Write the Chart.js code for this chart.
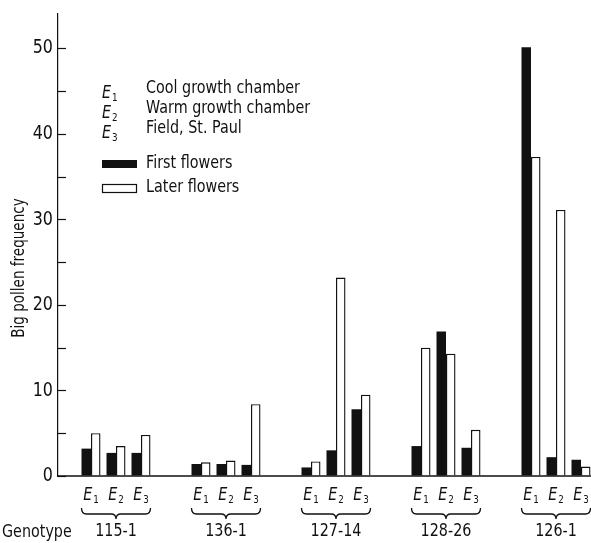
<!DOCTYPE html>
<html>
<head>
<meta charset="utf-8">
<script src="https://cdn.jsdelivr.net/npm/chart.js@4.4.1/dist/chart.umd.min.js"></script>
<style>
    html, body { margin: 0; padding: 0; background: #fff; }
    #wrap { width: 591px; height: 543px; position: relative; }
</style>
</head>
<body>
<div id="wrap"><canvas id="pollenChart"></canvas></div>
<script>
// data
const genotypes = ['115-1', '136-1', '127-14', '128-26', '126-1'];
const envNames = ['1', '2', '3'];   // subscripts of E
const envLegend = ['Cool growth chamber', 'Warm growth chamber', 'Field, St. Paul'];
const firstFlowers = [3.2, 2.7, 2.7, 1.4, 1.4, 1.3, 1.0, 3.0, 7.8, 3.5, 16.9, 3.3, 50.1, 2.2, 1.9];
const laterFlowers = [5.0, 3.5, 4.8, 1.6, 1.8, 8.4, 1.7, 23.2, 9.5, 15.0, 14.3, 5.4, 37.3, 31.1, 1.1];
const yTickLabels = [0, 10, 20, 30, 40, 50];

const FONT = '"DejaVu Sans", sans-serif';
const INK = '#111';
const GROUP_STEP = 4.4;   // env slots per genotype incl. gap

// x position of each bar pair: genotype group + environment slot
function slot(i) {
    const g = Math.floor(i / envNames.length);
    const e = i % envNames.length;
    return g * GROUP_STEP + e;
}

const firstPts = firstFlowers.map((v, i) => ({ x: slot(i), y: v }));
const laterPts = laterFlowers.map((v, i) => ({ x: slot(i), y: v }));

// the figure uses a narrow typeface, squeeze DejaVu to match
let squeeze = 1;
function calcSqueeze(ctx) {
    ctx.save();
    ctx.font = '18px ' + FONT;
    squeeze = 154 / ctx.measureText('Cool growth chamber').width;
    ctx.restore();
}

function text(ctx, s, x, y, size, opt) {
    opt = opt || {};
    ctx.save();
    ctx.font = (opt.italic ? 'italic ' : '') + size + 'px ' + FONT;
    ctx.textAlign = opt.align || 'left';
    ctx.textBaseline = 'middle';
    ctx.translate(x, y);
    if (opt.rotate) ctx.rotate(opt.rotate);
    ctx.scale(squeeze, 1);
    ctx.fillText(s, 0, 0);
    ctx.restore();
}

function textWidth(ctx, s, size, italic) {
    ctx.save();
    ctx.font = (italic ? 'italic ' : '') + size + 'px ' + FONT;
    const w = ctx.measureText(s).width * squeeze;
    ctx.restore();
    return w;
}

function drawE(ctx, x, cy, sub, align) {
    const wE = textWidth(ctx, 'E', 18, true);
    const wS = textWidth(ctx, sub, 11, false);
    const x0 = align === 'center' ? x - (wE + 1 + wS) / 2 : x;
    text(ctx, 'E', x0, cy, 18, { italic: true });
    text(ctx, sub, x0 + wE + 1, cy + 5, 11);
}

function drawBrace(ctx, xL, xR, y0) {
    const xm = (xL + xR) / 2;
    const y1 = y0 + 6, y2 = y0 + 11, r = 5;
    ctx.beginPath();
    ctx.moveTo(xL, y0);
    ctx.quadraticCurveTo(xL, y1, xL + r, y1);
    ctx.lineTo(xm - r, y1);
    ctx.quadraticCurveTo(xm, y1, xm, y2);
    ctx.quadraticCurveTo(xm, y1, xm + r, y1);
    ctx.lineTo(xR - r, y1);
    ctx.quadraticCurveTo(xR, y1, xR, y0);
    ctx.stroke();
}

const figureDecor = {
    id: 'figureDecor',
    afterDraw(chart) {
        const { ctx, chartArea, scales: { x, y } } = chart;
        calcSqueeze(ctx);
        ctx.save();
        ctx.strokeStyle = INK;
        ctx.fillStyle = INK;

        // baseline
        ctx.lineWidth = 1.5;
        ctx.beginPath();
        ctx.moveTo(chartArea.left, y.getPixelForValue(0));
        ctx.lineTo(chartArea.right, y.getPixelForValue(0));
        ctx.stroke();

        // inward tick marks every 5, labels every 10
        ctx.lineWidth = 1.2;
        for (let v = 0; v <= 50; v += 5) {
            const py = Math.round(y.getPixelForValue(v)) + 0.5;
            ctx.beginPath();
            ctx.moveTo(chartArea.left, py);
            ctx.lineTo(chartArea.left + 8, py);
            ctx.stroke();
        }
        yTickLabels.forEach(v => {
            text(ctx, String(v), 53, y.getPixelForValue(v), 20, { align: 'right' });
        });
        text(ctx, 'Big pollen frequency', 20, 268, 17, { align: 'center', rotate: -Math.PI / 2 });

        // legend
        const lx = 102, tx = 146;
        const rows = [88, 108, 128];
        envLegend.forEach((label, i) => {
            drawE(ctx, lx, rows[i] + 5, envNames[i], 'left');
            text(ctx, label, tx, rows[i], 18);
        });
        ctx.fillRect(102, 160, 35, 8);
        ctx.lineWidth = 1.2;
        ctx.strokeRect(102.5, 184.5, 34, 8);
        text(ctx, 'First flowers', tx, 163, 18);
        text(ctx, 'Later flowers', tx, 187, 18);

        // x labels: E under each pair, brace and genotype per group
        const by = y.getPixelForValue(0);
        firstFlowers.forEach((v, i) => {
            drawE(ctx, x.getPixelForValue(slot(i)), by + 19, envNames[i % envNames.length], 'center');
        });
        ctx.lineWidth = 1.3;
        genotypes.forEach((g, gi) => {
            const base = gi * GROUP_STEP;
            drawBrace(ctx, x.getPixelForValue(base - 0.38), x.getPixelForValue(base + 2.38), by + 32);
            text(ctx, g, x.getPixelForValue(base + 1), by + 55, 18, { align: 'center' });
        });
        text(ctx, 'Genotype', 2, by + 56, 18);
        ctx.restore();
    }
};

const chartCtx = document.getElementById('pollenChart').getContext('2d');
new Chart(chartCtx, {
    type: 'bar',
    data: {
        datasets: [
            {
                label: 'First flowers',
                data: firstPts,
                backgroundColor: INK,
                borderWidth: 0,
                categoryPercentage: 0.76,
                barPercentage: 1.0
            },
            {
                label: 'Later flowers',
                data: laterPts,
                backgroundColor: '#fff',
                borderColor: INK,
                borderWidth: 1.4,
                categoryPercentage: 0.76,
                barPercentage: 1.0
            }
        ]
    },
    options: {
        responsive: true,
        maintainAspectRatio: false,
        animation: false,
        layout: { padding: { top: 14, bottom: 67, left: 0, right: 0 } },
        plugins: {
            legend: { display: false },
            tooltip: { enabled: false }
        },
        scales: {
            x: {
                type: 'linear',
                display: false,
                min: -1.32,
                max: 20.0,
                offset: false
            },
            y: {
                min: 0,
                max: 54,
                afterFit: (scale) => { scale.width = 58; },
                grid: { drawOnChartArea: false, drawTicks: false },
                border: { display: true, color: INK, width: 1.2 },
                ticks: { display: false }
            }
        }
    },
    plugins: [figureDecor]
});
</script>
</body>
</html>
